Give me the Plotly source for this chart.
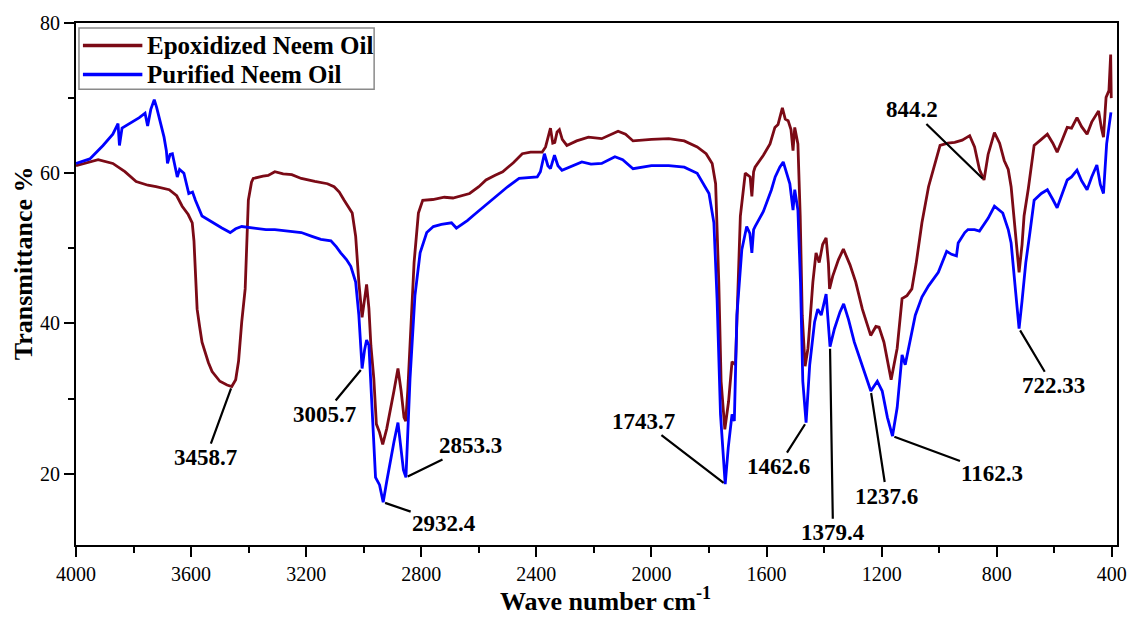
import plotly.graph_objects as go

# ---------------- FTIR spectra (wavenumber in cm-1, transmittance in %) ----------------
epo_wn = [4000, 3960, 3923, 3872, 3830, 3791, 3750, 3722, 3676, 3650, 3631, 3610, 3596, 3590,
          3585, 3579, 3570, 3562, 3540, 3527, 3500, 3475, 3458.7, 3445, 3435, 3424, 3412, 3405,
          3401, 3390, 3384, 3350, 3332, 3309, 3280, 3250, 3217, 3170, 3126, 3103, 3085, 3068,
          3050, 3040, 3028, 3017, 3005.7, 2997, 2990, 2982, 2975, 2965, 2956, 2945, 2934, 2920,
          2908, 2895, 2881, 2870, 2860, 2854, 2847, 2839, 2825, 2810, 2795, 2760, 2720, 2690,
          2660, 2632, 2600, 2575, 2545, 2517, 2480, 2449, 2420, 2380, 2368, 2351, 2343, 2336,
          2328, 2320, 2310, 2294, 2260, 2219, 2173, 2140, 2116, 2090, 2064, 2000, 1940, 1886,
          1841, 1810, 1789, 1777, 1766, 1758, 1745, 1732, 1720, 1708, 1700, 1691, 1674, 1657,
          1651, 1645, 1640, 1611, 1588, 1571, 1560, 1545, 1535, 1525, 1515, 1508, 1502, 1491,
          1483, 1476, 1466, 1456, 1439, 1428, 1417, 1405, 1393, 1385, 1381, 1370, 1350, 1333,
          1310, 1290, 1267, 1238, 1220, 1209, 1192, 1167, 1146, 1129, 1112, 1095, 1080, 1060,
          1037, 1020, 997, 970, 946, 920, 894, 877, 860, 844.2, 830, 808, 790, 774, 760, 750,
          735, 722.33, 712, 705, 690, 670, 645, 624, 605, 590, 575, 555, 540, 521, 505, 486,
          470, 446, 436, 429, 420, 410, 404, 402]
epo_t = [61.0, 61.4, 61.8, 61.3, 60.2, 58.9, 58.4, 58.2, 57.8, 57.0, 55.6, 54.5, 53.4, 51.0,
         47.6, 41.9, 39.5, 37.5, 34.8, 33.6, 32.3, 31.8, 31.6, 32.5, 35.0, 40.2, 44.6, 51.0,
         56.4, 58.8, 59.3, 59.6, 59.7, 60.2, 59.9, 59.8, 59.3, 58.9, 58.6, 58.2, 57.5, 56.4,
         55.3, 54.7, 51.6, 45.5, 40.8, 43.5, 45.2, 42.0, 37.0, 32.7, 26.6, 25.5, 23.9, 26.0,
         28.3, 31.0, 34.0, 31.0, 27.5, 27.0, 31.0, 37.1, 48.1, 54.7, 56.4, 56.5, 56.8, 56.7,
         57.0, 57.3, 58.2, 59.1, 59.7, 60.2, 61.4, 62.6, 62.8, 62.8, 63.5, 66.0, 64.0, 64.1,
         65.5, 65.8, 64.5, 63.7, 64.3, 64.8, 64.6, 65.2, 65.6, 65.2, 64.3, 64.5, 64.6, 64.3,
         63.5, 62.6, 61.3, 58.6, 45.5, 32.3, 25.9, 29.6, 34.9, 34.5, 45.5, 54.3, 60.0, 59.5,
         56.9, 60.2, 60.8, 62.4, 63.9, 66.1, 66.5, 68.7, 67.2, 67.0, 65.8, 63.0, 66.1, 63.9,
         54.3, 41.1, 34.3, 36.7, 45.5, 49.4, 48.1, 50.5, 51.4, 48.0, 44.6, 46.3, 48.5, 49.9,
         47.8, 45.5, 41.9, 38.4, 39.6, 39.5, 37.5, 32.5, 36.7, 43.3, 43.7, 44.6, 48.0, 53.4,
         58.2, 60.5, 63.7, 64.0, 64.1, 64.4, 65.0, 63.5, 60.5, 59.1, 62.5, 65.4, 64.0, 61.7,
         60.5, 58.2, 52.0, 46.8, 50.5, 54.3, 58.0, 63.7, 64.5, 65.2, 64.0, 62.8, 64.2, 66.1,
         66.0, 67.4, 66.2, 65.2, 66.8, 68.3, 66.0, 64.8, 70.1, 71.0, 75.8, 70.0]

pur_wn = [4000, 3952, 3906, 3872, 3854, 3849, 3840, 3814, 3780, 3760, 3751, 3740, 3728, 3720,
          3711, 3694, 3686, 3682, 3673, 3665, 3648, 3640, 3625, 3608, 3595, 3585, 3562, 3545,
          3527, 3493, 3464, 3445, 3424, 3400, 3378, 3340, 3309, 3260, 3217, 3180, 3149, 3114,
          3095, 3080, 3060, 3045, 3028, 3017, 3005.7, 2997, 2990, 2982, 2971, 2959, 2945, 2932.4,
          2920, 2908, 2895, 2881, 2870, 2862, 2853.3, 2845, 2839, 2822, 2804, 2781, 2758, 2730,
          2695, 2678, 2640, 2609, 2575, 2540, 2500, 2460, 2397, 2386, 2372, 2360, 2351, 2337,
          2325, 2311, 2280, 2242, 2210, 2173, 2127, 2100, 2064, 2000, 1940, 1886, 1841, 1800,
          1783, 1772, 1760, 1743.7, 1733, 1720, 1712, 1703, 1686, 1669, 1658, 1651, 1645, 1640,
          1611, 1583, 1570, 1554, 1542, 1530, 1519, 1508, 1502, 1491, 1482, 1474, 1462.6, 1450,
          1433, 1422, 1410, 1393, 1379.4, 1364, 1345, 1332, 1315, 1295, 1272, 1237.6, 1215, 1198,
          1180, 1162.3, 1146, 1129, 1118, 1106, 1083, 1060, 1037, 1003, 974, 957, 940, 934, 911,
          900, 877, 860, 830, 808, 779, 760, 750, 735, 722.33, 712, 699, 685, 670, 645, 624, 605,
          590, 575, 555, 540, 521, 505, 486, 470, 452, 440, 429, 418, 410, 403]
pur_t = [61.3, 61.9, 63.7, 65.2, 66.6, 63.7, 66.0, 66.6, 67.4, 68.0, 66.3, 68.5, 69.8, 68.8,
         67.4, 64.8, 63.0, 61.3, 62.5, 62.6, 59.5, 60.5, 60.0, 57.3, 57.5, 56.4, 54.3, 53.9,
         53.4, 52.7, 52.1, 52.6, 52.9, 52.8, 52.7, 52.5, 52.5, 52.3, 52.1, 51.6, 51.2, 51.0,
         50.2, 49.4, 48.5, 47.6, 45.5, 41.1, 34.0, 36.5, 37.8, 37.1, 28.3, 19.5, 18.5, 16.2,
         19.0, 21.7, 24.2, 26.8, 23.0, 20.5, 19.5, 26.0, 32.7, 43.7, 49.4, 52.1, 52.9, 53.2,
         53.4, 52.7, 53.7, 54.7, 55.8, 56.9, 58.2, 59.3, 59.5, 60.2, 62.6, 61.0, 60.6, 62.4,
         61.0, 60.4, 60.9, 61.5, 61.2, 61.3, 62.2, 61.8, 60.6, 61.0, 61.0, 60.8, 60.0, 57.3,
         53.4, 43.3, 27.9, 18.6, 23.5, 27.9, 27.0, 41.1, 49.8, 52.9, 52.0, 49.4, 52.5, 52.9,
         54.9, 57.8, 59.5, 60.8, 61.5, 60.0, 58.6, 55.1, 57.8, 55.1, 45.5, 32.3, 26.8, 34.5,
         40.2, 41.9, 41.1, 43.9, 36.9, 39.3, 41.5, 42.6, 40.5, 37.5, 34.9, 31.0, 32.3, 31.0,
         27.5, 25.0, 28.8, 35.8, 34.5, 36.7, 41.1, 43.5, 45.0, 46.8, 49.6, 49.2, 49.0, 50.7, 52.1,
         52.5, 52.5, 52.3, 54.0, 55.6, 54.7, 52.5, 50.7, 44.5, 39.3, 43.0, 48.1, 52.0, 56.4, 57.3,
         57.8, 56.5, 55.4, 57.0, 59.1, 59.5, 60.4, 59.0, 57.8, 59.5, 61.1, 58.5, 57.3, 63.9,
         66.0, 68.1]

series_names = ["Epoxidized Neem Oil", "Purified Neem Oil"]
series_colors = ["#7b0a16", "#0000ff"]

# labelled band positions and the curve each label points at (0 = epoxidized, 1 = purified)
peak_wn = [3458.7, 3005.7, 2932.4, 2853.3, 1743.7, 1462.6, 1379.4, 1237.6, 1162.3, 844.2, 722.33]
peak_text = ["3458.7", "3005.7", "2932.4", "2853.3", "1743.7", "1462.6", "1379.4",
             "1237.6", "1162.3", "844.2", "722.33"]
peak_series = [0, 1, 1, 1, 1, 1, 1, 1, 1, 0, 1]

x_ticks = [4000, 3600, 3200, 2800, 2400, 2000, 1600, 1200, 800, 400]
x_minor = [3800, 3400, 3000, 2600, 2200, 1800, 1400, 1000, 600]
y_ticks = [20, 40, 60, 80]
y_minor = [30, 50, 70]

# ---------------- layout geometry (pixels) ----------------
W, H = 1139, 618
L, R, T, B = 76, 1127, 18, 545
SERIF = "Liberation Serif, Times New Roman, serif"


def paper_x(px):
    return (px - L) / (R - L)


def paper_y(py):
    return (B - py) / (B - T)


# label offsets (text centre relative to the marked point, in pixels)
label_offsets = [(-26, 71), (-38, 46), (61, 21), (65, -32), (-82, -63), (-28, 44),
                 (3, 186), (16, 105), (100, 37), (-72, -70), (34, 57)]

fig = go.Figure()
all_wn = [epo_wn, pur_wn]
all_t = [epo_t, pur_t]
for name, color, wn, tr in zip(series_names, series_colors, all_wn, all_t):
    fig.add_trace(go.Scatter(x=wn, y=tr, mode="lines", name=name, showlegend=False,
                             line=dict(color=color, width=2.8)))

annotations = []
for wn_val, txt, s, (ox, oy) in zip(peak_wn, peak_text, peak_series, label_offsets):
    yv = all_t[s][all_wn[s].index(wn_val)]
    annotations.append(dict(x=wn_val, y=yv, xref="x", yref="y", text=f"<b>{txt}</b>",
                            showarrow=True, arrowhead=0, arrowwidth=2.2, arrowcolor="black",
                            ax=ox, ay=oy, standoff=2,
                            font=dict(family=SERIF, size=23, color="black")))

# axis titles
annotations.append(dict(x=paper_x(611), y=paper_y(600), xref="paper", yref="paper",
                        text="<b>Wave number cm<sup>-1</sup></b>", showarrow=False,
                        xanchor="center", yanchor="middle",
                        font=dict(family=SERIF, size=26, color="black")))
annotations.append(dict(x=paper_x(23), y=paper_y(261), xref="paper", yref="paper",
                        text="<b>Transmittance %</b>", showarrow=False, textangle=-90,
                        xanchor="center", yanchor="middle",
                        font=dict(family=SERIF, size=26, color="black")))

# legend box
shapes = [dict(type="rect", xref="paper", yref="paper", x0=paper_x(79), x1=paper_x(377),
               y0=paper_y(85), y1=paper_y(23), line=dict(color="#8a8a8a", width=1.5),
               fillcolor="white", layer="above")]
row_y = [40.7, 70]
for name, color, ry in zip(series_names, series_colors, row_y):
    shapes.append(dict(type="line", xref="paper", yref="paper", x0=paper_x(83), x1=paper_x(143),
                       y0=paper_y(ry), y1=paper_y(ry), line=dict(color=color, width=3.5),
                       layer="above"))
    annotations.append(dict(x=paper_x(146), y=paper_y(ry), xref="paper", yref="paper",
                            text=f"<b>{name}</b>", showarrow=False, xanchor="left",
                            yanchor="middle", font=dict(family=SERIF, size=25, color="black")))

fig.update_layout(
    width=W, height=H,
    margin=dict(l=L, r=W - R, t=T, b=H - B, pad=0),
    paper_bgcolor="white", plot_bgcolor="white",
    font=dict(family=SERIF, color="black"),
    shapes=shapes, annotations=annotations,
    xaxis=dict(range=[4000, 382], tickmode="array", tickvals=x_ticks,
               ticktext=[str(v) for v in x_ticks], ticks="outside", ticklen=10, tickwidth=2,
               tickcolor="black", showline=True, linecolor="black", linewidth=2, mirror=True,
               showgrid=False, zeroline=False, tickfont=dict(family=SERIF, size=20, color="black"),
               minor=dict(tickmode="array", tickvals=x_minor, ticks="outside", ticklen=6,
                          tickwidth=2, tickcolor="black", showgrid=False)),
    yaxis=dict(range=[10.5, 80], tickmode="array", tickvals=y_ticks,
               ticktext=[str(v) for v in y_ticks], ticks="outside", ticklen=10, tickwidth=2,
               tickcolor="black", showline=True, linecolor="black", linewidth=2, mirror=True,
               showgrid=False, zeroline=False, tickfont=dict(family=SERIF, size=20, color="black"),
               minor=dict(tickmode="array", tickvals=y_minor, ticks="outside", ticklen=6,
                          tickwidth=2, tickcolor="black", showgrid=False)),
)

fig.write_html("out.html")
